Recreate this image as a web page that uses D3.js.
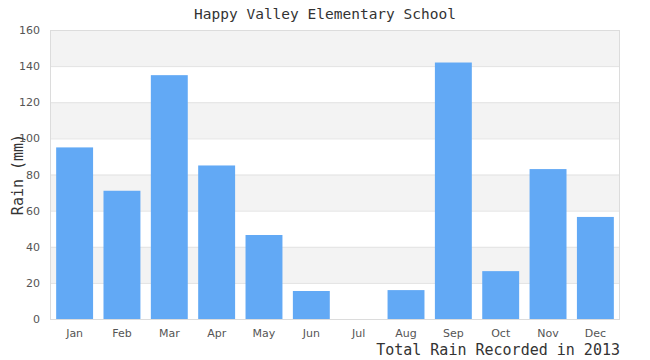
<!DOCTYPE html>
<html><head><meta charset="utf-8">
<script src="https://cdn.jsdelivr.net/npm/d3@7"></script>
<style>body{margin:0;background:#fff;}svg{display:block;}</style>
</head><body>
<svg id="c" width="650" height="360"></svg>
<script>
const months = ["Jan","Feb","Mar","Apr","May","Jun","Jul","Aug","Sep","Oct","Nov","Dec"];
const rain = [95, 71, 135, 85, 46.5, 15.5, 0, 16, 142, 26.5, 83, 56.5];
const yTicks = [0,20,40,60,80,100,120,140,160];
const titleText = "Happy Valley Elementary School";
const yTitle = "Rain (mm)";
const xTitle = "Total Rain Recorded in 2013";

const svg = d3.select("#c");
const m = {l:50, r:30, t:30, b:41};
const W = 650, H = 360;
const x = d3.scaleBand().domain(months).range([m.l, W-m.r]).paddingInner(0.22).paddingOuter(0.13);
const y = d3.scaleLinear().domain([0,160]).range([H-m.b, m.t]);

// alternating bands
const bands = d3.pairs(yTicks);
svg.append("g").selectAll("rect").data(bands).join("rect")
  .attr("x", m.l).attr("width", W-m.r-m.l)
  .attr("y", d=>y(d[1])).attr("height", d=>y(d[0])-y(d[1]))
  .attr("fill", (d,i)=> i%2===1 ? "#f3f3f3" : "#ffffff");

// grid lines
svg.append("g").selectAll("line").data(yTicks).join("line")
  .attr("x1", m.l).attr("x2", W-m.r)
  .attr("y1", d=>y(d)+0.5).attr("y2", d=>y(d)+0.5)
  .attr("stroke", "#e2e2e2").attr("stroke-width", 1);

// bars
svg.append("g").selectAll("rect").data(months).join("rect")
  .attr("x", d=>x(d)).attr("width", x.bandwidth())
  .attr("y", (d,i)=>y(rain[i])).attr("height", (d,i)=>y(0)-y(rain[i]))
  .attr("fill", "#62a9f5");

// border
svg.append("rect").attr("x", m.l+0.5).attr("y", m.t+0.5)
  .attr("width", W-m.r-m.l-1).attr("height", H-m.b-m.t)
  .attr("fill","none").attr("stroke","#dcdcdc").attr("stroke-width",1);

// y axis
const ya = svg.append("g").attr("transform", `translate(${m.l},0)`)
  .call(d3.axisLeft(y).tickValues(yTicks).tickSize(0).tickPadding(10));
ya.select(".domain").remove();
ya.selectAll("text").attr("fill","#555").style("font-family","'DejaVu Sans',sans-serif").style("font-size","11px");

// x axis
const xa = svg.append("g").attr("transform", `translate(0,${H-m.b})`)
  .call(d3.axisBottom(x).tickSize(0).tickPadding(10));
xa.select(".domain").remove();
xa.selectAll("text").attr("fill","#555").style("font-family","'DejaVu Sans',sans-serif").style("font-size","11px");

// titles
svg.append("text").attr("x", 325).attr("y", 19).attr("text-anchor","middle")
  .attr("fill","#333").style("font-family","'DejaVu Sans Mono',monospace").style("font-size","14.5px")
  .text(titleText);
svg.append("text").attr("transform", `translate(23,${(m.t+H-m.b)/2}) rotate(-90)`)
  .attr("text-anchor","middle").attr("fill","#333")
  .style("font-family","'DejaVu Sans Mono',monospace").style("font-size","15px")
  .text(yTitle);
svg.append("text").attr("x", W-m.r).attr("y", 355).attr("text-anchor","end")
  .attr("fill","#333").style("font-family","'DejaVu Sans Mono',monospace").style("font-size","15px")
  .text(xTitle);
</script>
</body></html>
